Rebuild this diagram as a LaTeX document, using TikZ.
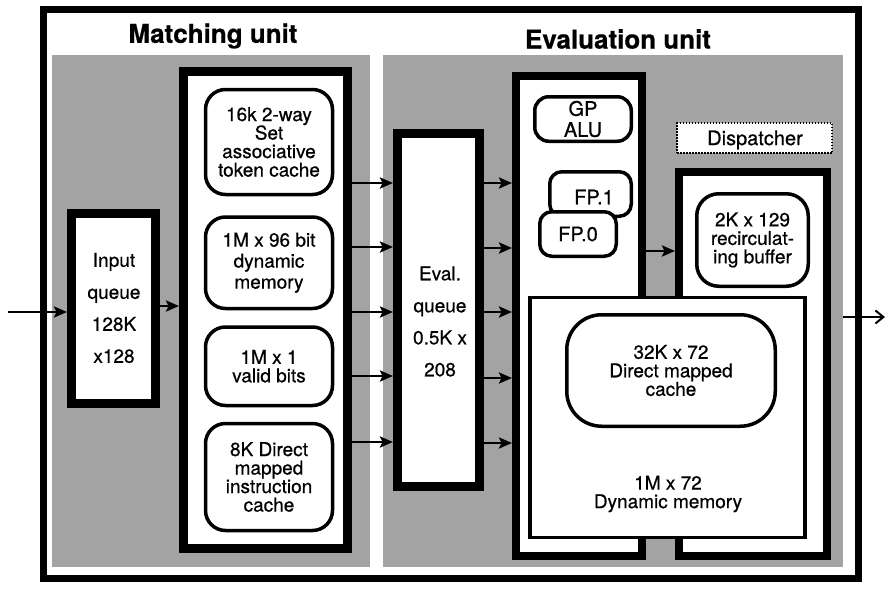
\documentclass[tikz,border=0pt]{standalone}
\usepackage{fontspec}
\setmainfont{TeX Gyre Heros}[FakeBold=0.6]
\usetikzlibrary{arrows.meta}

\tikzset{
  halftone/.style={fill=black!36, draw=none},
  heavybox/.style={draw, line width=9pt, fill=white, rectangle, inner sep=0pt},
  unitbox/.style={draw, line width=8pt, fill=white, rectangle, inner sep=0pt},
  membox/.style={draw, line width=3.5pt, fill=white, rectangle, inner sep=0pt},
  roundbox/.style={draw, line width=3.5pt, fill=white, rectangle, inner sep=0pt,
    rounded corners=#1},
  roundbox/.default=18pt,
  body/.style={font=\fontsize{19}{18.5}\selectfont, align=center, inner sep=0pt},
  unittitle/.style={font=\bfseries\fontsize{26}{26}\selectfont, inner sep=0pt},
  flow/.style={line width=2.6pt, -{Stealth[length=13pt,width=11pt,inset=2.5pt]}},
  outflow/.style={line width=2.2pt, -{Straight Barb[length=8pt,width=13pt,line width=2pt]}},
}

\begin{document}
\begin{tikzpicture}[x=1pt, y=-1pt]
\useasboundingbox (0,0) rectangle (887,589);

% shaded backgrounds of the two units
\fill[halftone] (52,55) rectangle (370,567);
\fill[halftone] (383,55) rectangle (843,567);

% outer frame
\draw[line width=7pt] (43.5,9) rectangle (858.5,578);

% unit titles
\node[unittitle] (tmatch) at (213,36) {Matching unit};
\node[unittitle] (teval) at (618,39) {Evaluation unit};

% matching unit
\node[heavybox, minimum width=84pt, minimum height=190pt] (inq) at (113.5,308.5) {};
\node[body, font=\fontsize{19}{32}\selectfont] (inqtext) at (114,308) {Input\\queue\\128K\\x128};

\node[heavybox, minimum width=164pt, minimum height=477pt] (mbox) at (265.5,310) {};
\node[roundbox=20pt, minimum width=127pt, minimum height=105pt, body] (tok) at (269,142)
  {16k 2-way\\Set\\associative\\token cache};
\node[roundbox=20pt, minimum width=127pt, minimum height=91.5pt, body,
  font=\fontsize{19}{21}\selectfont] (dyn) at (269,262.75)
  {1M x 96 bit\\dynamic\\memory};
\node[roundbox=20pt, minimum width=127pt, minimum height=78.5pt, body] (val) at (269,366.25)
  {1M x 1\\valid bits};
\node[roundbox=20pt, minimum width=127pt, minimum height=107pt, body] (icache) at (269,477)
  {8K Direct\\mapped\\instruction\\cache};

% evaluation queue
\node[heavybox, minimum width=82pt, minimum height=353pt] (evq) at (438.5,310) {};
\node[body, font=\fontsize{19}{32}\selectfont] (evqtext) at (440,321.5) {Eval.\\queue\\0.5K x\\208};

% evaluation unit
\node[unitbox, minimum width=126pt, minimum height=480pt] (ebox) at (579,316) {};
\node[unitbox, minimum width=148pt, minimum height=384pt] (dbox) at (753,364) {};
\node[membox, minimum width=275pt, minimum height=240pt] (mem) at (667.5,417.5) {};
\node[body] (memtext) at (668,494) {1M x 72\\Dynamic memory};

\node[draw, line width=1.5pt, dash pattern=on 1.5pt off 1.5pt, fill=white,
  minimum width=155pt, minimum height=30pt, inner sep=0pt] (disp) at (754.5,138) {};
\node[body, font=\fontsize{20}{20}\selectfont] (disptext) at (755,140) {Dispatcher};

\node[roundbox=14pt, minimum width=96.5pt, minimum height=44.5pt, body,
  font=\fontsize{20}{21}\selectfont] (gp) at (583,119) {GP\\ALU};
\node[roundbox=12pt, minimum width=81.5pt, minimum height=44.5pt] (fp1) at (590.5,194) {};
\node[body, font=\fontsize{20}{20}\selectfont] (fp1text) at (594,197) {FP.1};
\node[roundbox=12pt, minimum width=76.5pt, minimum height=44.5pt, body,
  font=\fontsize{20}{20}\selectfont] (fp0) at (578,234) {FP.0};
\node[roundbox=22pt, minimum width=111.5pt, minimum height=92.5pt, body] (buf) at (752.5,240)
  {2K x 129\\recirculat-\\ing buffer};
\node[roundbox=35pt, minimum width=208.5pt, minimum height=111.5pt, body] (cache) at (671,370.5)
  {32K x 72\\Direct mapped\\cache};

% rows used by the connectors
\coordinate (rin) at (0,312);
\coordinate (rq) at (0,306);
\coordinate (a1) at (0,183);
\coordinate (a2) at (0,247);
\coordinate (a3) at (0,312);
\coordinate (a4) at (0,376);
\coordinate (a5) at (0,442);
\coordinate (b1) at (0,183);
\coordinate (b2) at (0,248);
\coordinate (b3) at (0,312);
\coordinate (b4) at (0,378);
\coordinate (b5) at (0,443);
\coordinate (rd) at (0,251);
\coordinate (instart) at (8,312);
\coordinate (outstart) at (843,317);
\coordinate (outend) at (885,317);

% connectors
\draw[flow] (instart) -- (inq.west |- rin);
\draw[flow] (inq.east |- rq) -- (mbox.west |- rq);
\foreach \r in {a1,a2,a3,a4,a5}
  \draw[flow] (mbox.east |- \r) -- (evq.west |- \r);
\foreach \r in {b1,b2,b3,b4,b5}
  \draw[flow] (evq.east |- \r) -- (ebox.west |- \r);
\draw[flow] (ebox.east |- rd) -- (dbox.west |- rd);
\draw[outflow] (outstart) -- (outend);
\end{tikzpicture}
\end{document}
